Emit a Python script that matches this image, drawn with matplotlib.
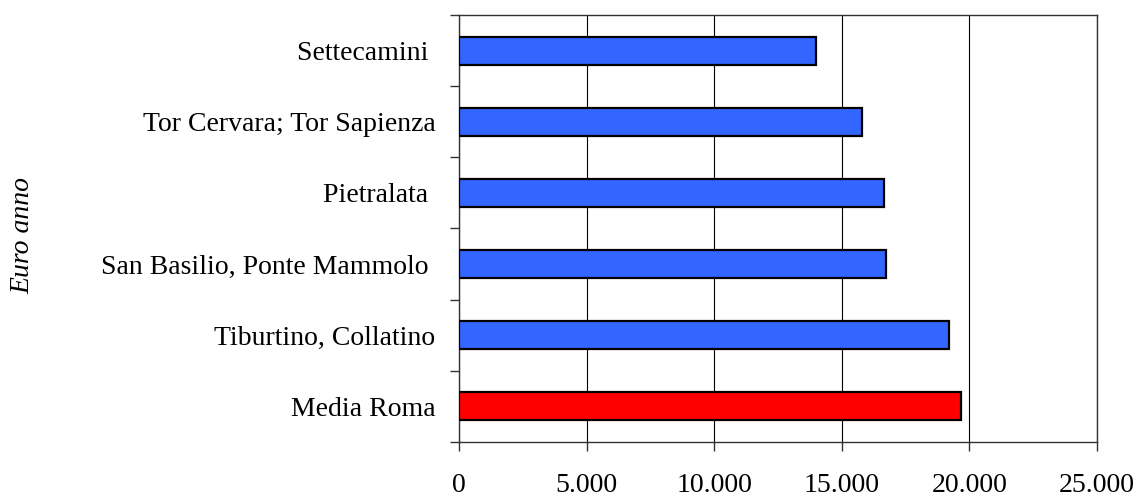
import matplotlib.pyplot as plt
import numpy as np

# data, top to bottom as shown in the chart
zone = ['Settecamini ', 'Tor Cervara; Tor Sapienza', 'Pietralata ',
        'San Basilio, Ponte Mammolo ', 'Tiburtino, Collatino', 'Media Roma']
reddito = [14000, 15780, 16670, 16740, 19220, 19660]
colori = ['#3366FF', '#3366FF', '#3366FF', '#3366FF', '#3366FF', '#FF0000']
xticks = [0, 5000, 10000, 15000, 20000, 25000]
xlabels = ['0', '5.000', '10.000', '15.000', '20.000', '25.000']

plt.rcParams['font.family'] = ['Liberation Serif', 'DejaVu Serif']

fig = plt.figure(figsize=(11.37, 5.01), dpi=100)
ax = fig.add_axes([0.4037, 0.1184, 0.5611, 0.8511])

y = np.arange(len(zone))[::-1]
ax.barh(y, reddito, height=0.4, color=colori, edgecolor='black',
        linewidth=1.6, zorder=3)

ax.set_xlim(0, 25000)
ax.set_ylim(-0.5, len(zone) - 0.5)
ax.set_xticks(xticks)
ax.set_xticklabels(xlabels, fontsize=20)
ax.set_yticks(y)
ax.set_yticklabels(zone, fontsize=20)
ax.set_yticks(np.arange(len(zone) + 1) - 0.5, minor=True)

ax.tick_params(axis='y', which='major', length=0, pad=17)
ax.tick_params(axis='y', which='minor', length=6.5, width=1, color='#333333')
ax.tick_params(axis='x', length=6.5, width=1, color='#333333', pad=16)

ax.grid(axis='x', color='black', linewidth=0.8, zorder=0)
for s in ax.spines.values():
    s.set_color('#333333')
    s.set_linewidth(1)

fig.text(23 / 1137, 1 - 236 / 501, 'Euro anno', fontsize=20, style='italic',
         rotation=90, ha='center', va='center')

fig.savefig('out.png', dpi=100)
